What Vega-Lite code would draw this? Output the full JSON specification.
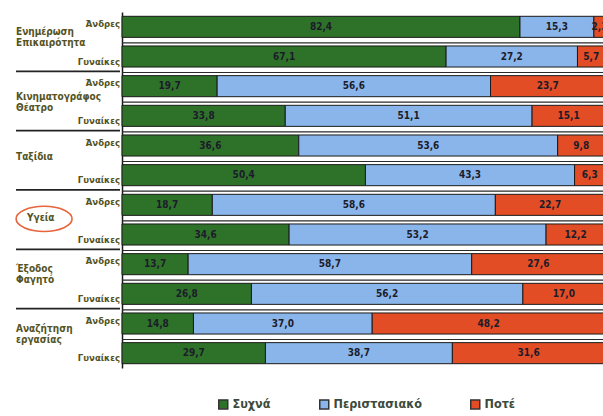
{
  "$schema": "https://vega.github.io/schema/vega-lite/v6.json",
  "padding": {"left": 12, "top": 12, "right": 0, "bottom": 0},
  "background": "white",
  "config": {
    "view": {"stroke": null},
    "font": "Liberation Sans Narrow, DejaVu Sans Condensed, sans-serif",
    "concat": {"spacing": 0}
  },
  "data": {
    "values": [
      {"cat": "Ενημέρωση Επικαιρότητα", "g": "Άνδρες", "s": "Συχνά", "v": 82.4},
      {"cat": "Ενημέρωση Επικαιρότητα", "g": "Άνδρες", "s": "Περιστασιακό", "v": 15.3},
      {"cat": "Ενημέρωση Επικαιρότητα", "g": "Άνδρες", "s": "Ποτέ", "v": 2.3},
      {"cat": "Ενημέρωση Επικαιρότητα", "g": "Γυναίκες", "s": "Συχνά", "v": 67.1},
      {"cat": "Ενημέρωση Επικαιρότητα", "g": "Γυναίκες", "s": "Περιστασιακό", "v": 27.2},
      {"cat": "Ενημέρωση Επικαιρότητα", "g": "Γυναίκες", "s": "Ποτέ", "v": 5.7},
      {"cat": "Κινηματογράφος Θέατρο", "g": "Άνδρες", "s": "Συχνά", "v": 19.7},
      {"cat": "Κινηματογράφος Θέατρο", "g": "Άνδρες", "s": "Περιστασιακό", "v": 56.6},
      {"cat": "Κινηματογράφος Θέατρο", "g": "Άνδρες", "s": "Ποτέ", "v": 23.7},
      {"cat": "Κινηματογράφος Θέατρο", "g": "Γυναίκες", "s": "Συχνά", "v": 33.8},
      {"cat": "Κινηματογράφος Θέατρο", "g": "Γυναίκες", "s": "Περιστασιακό", "v": 51.1},
      {"cat": "Κινηματογράφος Θέατρο", "g": "Γυναίκες", "s": "Ποτέ", "v": 15.1},
      {"cat": "Ταξίδια", "g": "Άνδρες", "s": "Συχνά", "v": 36.6},
      {"cat": "Ταξίδια", "g": "Άνδρες", "s": "Περιστασιακό", "v": 53.6},
      {"cat": "Ταξίδια", "g": "Άνδρες", "s": "Ποτέ", "v": 9.8},
      {"cat": "Ταξίδια", "g": "Γυναίκες", "s": "Συχνά", "v": 50.4},
      {"cat": "Ταξίδια", "g": "Γυναίκες", "s": "Περιστασιακό", "v": 43.3},
      {"cat": "Ταξίδια", "g": "Γυναίκες", "s": "Ποτέ", "v": 6.3},
      {"cat": "Υγεία", "g": "Άνδρες", "s": "Συχνά", "v": 18.7},
      {"cat": "Υγεία", "g": "Άνδρες", "s": "Περιστασιακό", "v": 58.6},
      {"cat": "Υγεία", "g": "Άνδρες", "s": "Ποτέ", "v": 22.7},
      {"cat": "Υγεία", "g": "Γυναίκες", "s": "Συχνά", "v": 34.6},
      {"cat": "Υγεία", "g": "Γυναίκες", "s": "Περιστασιακό", "v": 53.2},
      {"cat": "Υγεία", "g": "Γυναίκες", "s": "Ποτέ", "v": 12.2},
      {"cat": "Έξοδος Φαγητό", "g": "Άνδρες", "s": "Συχνά", "v": 13.7},
      {"cat": "Έξοδος Φαγητό", "g": "Άνδρες", "s": "Περιστασιακό", "v": 58.7},
      {"cat": "Έξοδος Φαγητό", "g": "Άνδρες", "s": "Ποτέ", "v": 27.6},
      {"cat": "Έξοδος Φαγητό", "g": "Γυναίκες", "s": "Συχνά", "v": 26.8},
      {"cat": "Έξοδος Φαγητό", "g": "Γυναίκες", "s": "Περιστασιακό", "v": 56.2},
      {"cat": "Έξοδος Φαγητό", "g": "Γυναίκες", "s": "Ποτέ", "v": 17.0},
      {"cat": "Αναζήτηση εργασίας", "g": "Άνδρες", "s": "Συχνά", "v": 14.8},
      {"cat": "Αναζήτηση εργασίας", "g": "Άνδρες", "s": "Περιστασιακό", "v": 37.0},
      {"cat": "Αναζήτηση εργασίας", "g": "Άνδρες", "s": "Ποτέ", "v": 48.2},
      {"cat": "Αναζήτηση εργασίας", "g": "Γυναίκες", "s": "Συχνά", "v": 29.7},
      {"cat": "Αναζήτηση εργασίας", "g": "Γυναίκες", "s": "Περιστασιακό", "v": 38.7},
      {"cat": "Αναζήτηση εργασίας", "g": "Γυναίκες", "s": "Ποτέ", "v": 31.6}
    ]
  },
  "transform": [
    {"calculate": "datum.cat + '|' + datum.g", "as": "row"},
    {"calculate": "indexof(['Συχνά', 'Περιστασιακό', 'Ποτέ'], datum.s)", "as": "k"},
    {"stack": "v", "groupby": ["row"], "sort": [{"field": "k", "order": "ascending"}], "as": ["v0", "v1"]},
    {"calculate": "(datum.v0 + datum.v1) / 2", "as": "mid"},
    {"calculate": "replace(format(datum.v, '.1f'), '.', ',')", "as": "lbl"}
  ],
  "hconcat": [
    {
      "width": 104,
      "height": 356,
      "transform": [{"filter": "datum.k == 0"}],
      "layer": [
        {
          "transform": [{"filter": "datum.g == 'Γυναίκες' && datum.cat != 'Αναζήτηση εργασίας'"}],
          "mark": {"type": "rule", "color": "#222222", "strokeWidth": 1.8, "yOffset": 14.8},
          "encoding": {
            "y": {"field": "row", "type": "nominal", "axis": null,
              "scale": {"domain": [
                "Ενημέρωση Επικαιρότητα|Άνδρες", "Ενημέρωση Επικαιρότητα|Γυναίκες",
                "Κινηματογράφος Θέατρο|Άνδρες", "Κινηματογράφος Θέατρο|Γυναίκες",
                "Ταξίδια|Άνδρες", "Ταξίδια|Γυναίκες",
                "Υγεία|Άνδρες", "Υγεία|Γυναίκες",
                "Έξοδος Φαγητό|Άνδρες", "Έξοδος Φαγητό|Γυναίκες",
                "Αναζήτηση εργασίας|Άνδρες", "Αναζήτηση εργασίας|Γυναίκες"],
                "paddingInner": 0.29, "paddingOuter": 0.145}}
          }
        },
        {
          "transform": [{"filter": "datum.g == 'Άνδρες' && indexof(['Ενημέρωση Επικαιρότητα', 'Έξοδος Φαγητό', 'Αναζήτηση εργασίας'], datum.cat) >= 0"}],
          "mark": {"type": "text", "align": "left", "baseline": "middle", "dy": 5, "lineBreak": " ", "lineHeight": 11, "fontWeight": "bold", "fontSize": 10, "color": "#55531f"},
          "encoding": {
            "y": {"field": "row", "type": "nominal"},
            "x": {"datum": 0, "type": "quantitative", "scale": {"domain": [0, 1]}, "axis": null},
            "text": {"field": "cat"}
          }
        },
        {
          "transform": [{"filter": "datum.g == 'Άνδρες' && indexof(['Κινηματογράφος Θέατρο', 'Ταξίδια'], datum.cat) >= 0"}],
          "mark": {"type": "text", "align": "left", "baseline": "middle", "dy": 11, "lineBreak": " ", "lineHeight": 11, "fontWeight": "bold", "fontSize": 10, "color": "#55531f"},
          "encoding": {
            "y": {"field": "row", "type": "nominal"},
            "x": {"datum": 0, "type": "quantitative"},
            "text": {"field": "cat"}
          }
        },
        {
          "transform": [{"filter": "datum.g == 'Άνδρες' && datum.cat == 'Υγεία'"}],
          "mark": {"type": "text", "align": "left", "baseline": "middle", "dy": 13, "dx": 11, "fontWeight": "bold", "fontSize": 10, "color": "#55531f"},
          "encoding": {
            "y": {"field": "row", "type": "nominal"},
            "x": {"datum": 0, "type": "quantitative"},
            "text": {"field": "cat"}
          }
        },
        {
          "transform": [{"filter": "datum.g == 'Άνδρες' && datum.cat == 'Υγεία'"}],
          "mark": {"type": "point", "shape": "M-1,0A1,0.45,0,1,1,1,0A1,0.45,0,1,1,-1,0Z", "size": 3136, "filled": false, "stroke": "#e8643c", "strokeWidth": 1.6, "opacity": 1, "yOffset": 14},
          "encoding": {
            "y": {"field": "row", "type": "nominal"},
            "x": {"datum": 0.27, "type": "quantitative"}
          }
        },
        {
          "transform": [{"filter": "datum.g == 'Άνδρες'"}],
          "mark": {"type": "text", "align": "right", "baseline": "middle", "dy": -3, "fontWeight": "bold", "fontSize": 9.5, "color": "#55531f"},
          "encoding": {
            "y": {"field": "row", "type": "nominal"},
            "x": {"datum": 1, "type": "quantitative"},
            "text": {"field": "g"}
          }
        },
        {
          "transform": [{"filter": "datum.g == 'Γυναίκες'"}],
          "mark": {"type": "text", "align": "right", "baseline": "middle", "dy": 5, "fontWeight": "bold", "fontSize": 9.5, "color": "#55531f"},
          "encoding": {
            "y": {"field": "row", "type": "nominal"},
            "x": {"datum": 1, "type": "quantitative"},
            "text": {"field": "g"}
          }
        }
      ]
    },
    {
      "width": 483,
      "height": 356,
      "encoding": {
        "y": {"field": "row", "type": "nominal",
          "scale": {"domain": [
            "Ενημέρωση Επικαιρότητα|Άνδρες", "Ενημέρωση Επικαιρότητα|Γυναίκες",
            "Κινηματογράφος Θέατρο|Άνδρες", "Κινηματογράφος Θέατρο|Γυναίκες",
            "Ταξίδια|Άνδρες", "Ταξίδια|Γυναίκες",
            "Υγεία|Άνδρες", "Υγεία|Γυναίκες",
            "Έξοδος Φαγητό|Άνδρες", "Έξοδος Φαγητό|Γυναίκες",
            "Αναζήτηση εργασίας|Άνδρες", "Αναζήτηση εργασίας|Γυναίκες"],
            "paddingInner": 0.29, "paddingOuter": 0.145},
          "axis": {"title": null, "labels": false, "ticks": false, "domainColor": "#1a1a1a", "domainWidth": 1.5}}
      },
      "layer": [
        {
          "transform": [{"filter": "datum.k == 0 && datum.row != 'Αναζήτηση εργασίας|Γυναίκες'"}],
          "mark": {"type": "rule", "color": "#2a2a2a", "strokeWidth": 1.2, "yOffset": 16}
        },
        {
          "mark": {"type": "bar", "stroke": "#1a1a1a", "strokeWidth": 1},
          "encoding": {
            "x": {"field": "v0", "type": "quantitative", "scale": {"domain": [0, 100]}, "axis": null},
            "x2": {"field": "v1"},
            "color": {"field": "s", "type": "nominal",
              "scale": {"domain": ["Συχνά", "Περιστασιακό", "Ποτέ"], "range": ["#2e7229", "#8ab5ea", "#e24d25"]},
              "legend": {"orient": "none", "legendX": 201, "legendY": 386, "direction": "horizontal", "title": null, "symbolType": "square", "symbolSize": 81, "symbolStrokeColor": "#333333", "symbolStrokeWidth": 1.5, "labelFontSize": 12.5, "labelFontWeight": "bold", "labelColor": "#3c4a3c", "columnPadding": 45, "labelOffset": 3}}
          }
        },
        {
          "mark": {"type": "text", "fontWeight": "bold", "fontSize": 10, "color": "#1c1c2a", "baseline": "middle"},
          "encoding": {
            "x": {"field": "mid", "type": "quantitative"},
            "text": {"field": "lbl"}
          }
        }
      ]
    }
  ]
}
